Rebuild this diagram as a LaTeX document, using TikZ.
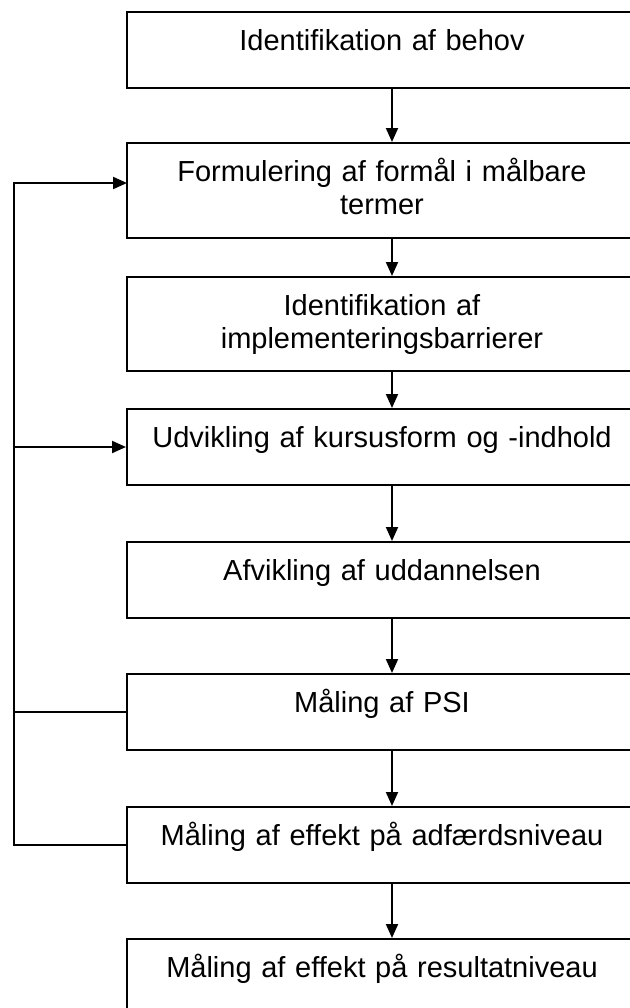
\documentclass[tikz,border=0pt]{standalone}
\usepackage{fontspec}
\setmainfont{Liberation Sans}
\usetikzlibrary{arrows.meta,fit}
\tikzset{
  box/.style={draw=black, line width=1.5pt, inner sep=0pt, rectangle},
  txt/.style={anchor=base, inner sep=0pt, text width=360pt, align=center,
              font=\fontsize{21.75pt}{24.9pt}\selectfont},
  conn/.style={draw=black, line width=1.5pt},
  arr/.style={conn, -{Triangle[length=10.5pt,width=9pt]}}
}
\begin{document}
\begin{tikzpicture}[x=0.75pt,y=-0.75pt]
\path[use as bounding box, clip] (0,0) rectangle (630,1008);
% boxes (pixel coordinates)
\node[box, fit={(127,12) (637,88)}]   (b1) {};
\node[box, fit={(127,143) (637,238)}] (b2) {};
\node[box, fit={(127,277) (637,371)}] (b3) {};
\node[box, fit={(127,409) (637,485)}] (b4) {};
\node[box, fit={(127,542) (637,618)}] (b5) {};
\node[box, fit={(127,674) (637,750)}] (b6) {};
\node[box, fit={(127,807) (637,883)}] (b7) {};
\node[box, fit={(127,939) (637,1015)}] (b8) {};
% texts
\node[txt] (t1) at (382,50)  {Identifikation af behov};
\node[txt] (t2) at (382,181) {Formulering af formål i målbare\\termer};
\node[txt] (t3) at (382,315) {Identifikation af\\implementeringsbarrierer};
\node[txt] (t4) at (382,447) {Udvikling af kursusform og -indhold};
\node[txt] (t5) at (382,580) {Afvikling af uddannelsen};
\node[txt] (t6) at (382,712) {Måling af PSI};
\node[txt] (t7) at (382,845) {Måling af effekt på adfærdsniveau};
\node[txt] (t8) at (382,977) {Måling af effekt på resultatniveau};
% helper coordinates
\coordinate (ax) at (392,0);
\coordinate (fx) at (14,0);
\coordinate (in2) at (127,183);
% main flow
\draw[arr] (b1.south -| ax) -- (b2.north -| ax);
\draw[arr] (b2.south -| ax) -- (b3.north -| ax);
\draw[arr] (b3.south -| ax) -- (b4.north -| ax);
\draw[arr] (b4.south -| ax) -- (b5.north -| ax);
\draw[arr] (b5.south -| ax) -- (b6.north -| ax);
\draw[arr] (b6.south -| ax) -- (b7.north -| ax);
\draw[arr] (b7.south -| ax) -- (b8.north -| ax);
% feedback
\draw[arr] (b7.west) -| (fx |- in2) -- (in2);
\draw[conn] (b6.west) -- (fx |- b6.west);
\draw[arr] (fx |- b4.west) -- (b4.west);
\end{tikzpicture}
\end{document}
